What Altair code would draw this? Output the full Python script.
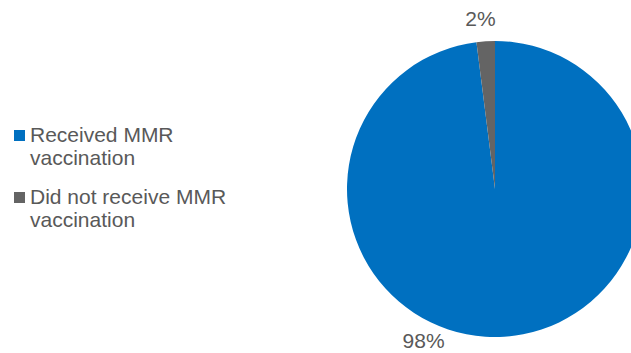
import altair as alt
import pandas as pd

categories = ["Received MMR vaccination", "Did not receive MMR vaccination"]
values = [98, 2]
labels = ["98%", "2%"]
order = [0, 1]
colors = ["#0070C0", "#646464"]

df = pd.DataFrame({"category": categories, "value": values, "label": labels, "order": order})

FONT = "Liberation Sans"
TXT = "#595959"
CX, CY = 495, 189

base = alt.Chart(df).encode(
    theta=alt.Theta("value:Q", stack=True),
    order=alt.Order("order:Q", sort="ascending"),
)

pie = base.mark_arc(outerRadius=148).encode(
    x=alt.value(CX),
    y=alt.value(CY),
    color=alt.Color(
        "category:N",
        scale=alt.Scale(domain=categories, range=colors),
        sort=categories,
        legend=alt.Legend(
            title=None,
            orient="none",
            legendX=9,
            legendY=125,
            padding=0,
            labelExpr="[replace(datum.label, ' vaccination', ''), 'vaccination']",
            labelFont=FONT,
            labelFontSize=21,
            labelColor=TXT,
            labelLimit=400,
            labelOffset=0,
            symbolType="square",
            symbolSize=121,
            symbolStrokeWidth=0,
            rowPadding=17,
        ),
    ),
)

lab_small = base.mark_text(radius=169, fontSize=21, font=FONT, color=TXT, dx=-4).encode(
    x=alt.value(CX),
    y=alt.value(CY),
    detail="category:N",
    text=alt.condition(alt.datum.value < 50, "label:N", alt.value("")),
)

lab_big = base.mark_text(radius=169, fontSize=21, font=FONT, color=TXT, dx=-82, dy=-16).encode(
    x=alt.value(CX),
    y=alt.value(CY),
    detail="category:N",
    text=alt.condition(alt.datum.value >= 50, "label:N", alt.value("")),
)

chart = alt.layer(pie, lab_small, lab_big).properties(
    width=631,
    height=353,
    autosize=alt.AutoSizeParams(type="none"),
    padding=0,
    background="white",
).configure_view(stroke=None)

chart.save("out.html", embed_options={"renderer": "svg", "actions": False})
